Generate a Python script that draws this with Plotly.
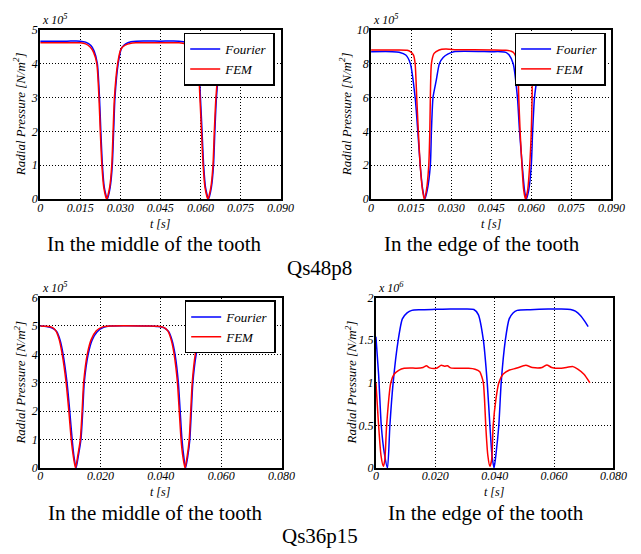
import plotly.graph_objects as go

# ---------------- DATA ----------------
# Qs48p8, middle of the tooth (x 10^5 N/m^2)
tl_four_t = [0, 0.010, 0.015, 0.017, 0.019, 0.0202, 0.0214, 0.0222, 0.0227, 0.0233, 0.0240, 0.0251,
             0.0262, 0.0270, 0.0275, 0.0280, 0.0292, 0.0305, 0.032, 0.034, 0.036, 0.045, 0.052, 0.0545,
             0.0565, 0.0580, 0.0593, 0.0600, 0.0606, 0.0612, 0.0619, 0.0630, 0.0641, 0.0649, 0.0654,
             0.0660, 0.0672, 0.0682, 0.0695, 0.0705]
tl_four_v = [4.66, 4.66, 4.66, 4.63, 4.53, 4.37, 4.00, 3.00, 2.00, 1.00, 0.35, 0.00,
             0.35, 1.00, 2.00, 3.00, 4.00, 4.46, 4.58, 4.64, 4.66, 4.66, 4.66, 4.63,
             4.53, 4.37, 4.00, 3.00, 2.00, 1.00, 0.35, 0.00, 0.35, 1.00, 2.00,
             3.00, 4.00, 4.40, 4.58, 4.63]
tl_fem_t = [0, 0.010, 0.015, 0.017, 0.0188, 0.0200, 0.0212, 0.0220, 0.0225, 0.0231, 0.0238, 0.0249,
            0.0260, 0.0268, 0.0273, 0.0278, 0.0290, 0.0302, 0.0318, 0.034, 0.036, 0.045, 0.052, 0.0543,
            0.0563, 0.0578, 0.0591, 0.0598, 0.0604, 0.0610, 0.0617, 0.0628, 0.0639, 0.0647, 0.0652,
            0.0658, 0.0670, 0.0680, 0.0693, 0.0705]
tl_fem_v = [4.61, 4.61, 4.61, 4.58, 4.48, 4.33, 4.00, 3.00, 2.00, 1.00, 0.35, 0.00,
            0.35, 1.00, 2.00, 3.00, 4.00, 4.42, 4.54, 4.60, 4.61, 4.61, 4.61, 4.58,
            4.48, 4.33, 4.00, 3.00, 2.00, 1.00, 0.35, 0.00, 0.35, 1.00, 2.00,
            3.00, 4.00, 4.38, 4.55, 4.60]

# Qs48p8, edge of the tooth (x 10^5 N/m^2)
tr_four_t = [0, 0.008, 0.0105, 0.013, 0.0147, 0.0165, 0.0175, 0.0184, 0.0193, 0.0201, 0.0210,
             0.0222, 0.0226, 0.0232, 0.0244, 0.0256, 0.0270, 0.0287, 0.031, 0.045, 0.0485, 0.0505,
             0.0517, 0.0532, 0.0548, 0.0556, 0.0566, 0.0574, 0.0581, 0.0590, 0.0600, 0.0605, 0.0612,
             0.0621, 0.0639, 0.0655, 0.0675, 0.0705]
tr_four_v = [8.70, 8.70, 8.66, 8.50, 8.00, 6.00, 4.00, 2.00, 0.60, 0.00, 0.50,
             2.00, 4.00, 6.00, 7.00, 8.00, 8.35, 8.55, 8.70, 8.70, 8.70, 8.66,
             8.50, 8.00, 6.00, 4.00, 2.00, 0.60, 0.00, 0.50, 2.00, 4.00, 6.00,
             7.00, 8.00, 8.35, 8.55, 8.70]
tr_fem_t = [0, 0.010, 0.0135, 0.0147, 0.0159, 0.0165, 0.0171, 0.0177, 0.0184, 0.0192, 0.0199,
            0.0207, 0.0216, 0.0220, 0.0222, 0.0226, 0.0236, 0.0255, 0.028, 0.032, 0.045, 0.0505,
            0.0525, 0.0536, 0.0548, 0.0553, 0.0558, 0.0565, 0.0571, 0.0578, 0.0586, 0.0594, 0.0600,
            0.0603, 0.0605, 0.0615, 0.0627, 0.065, 0.0705]
tr_fem_v = [8.80, 8.80, 8.78, 8.70, 8.50, 8.00, 6.00, 4.00, 2.00, 0.60, 0.00,
            0.50, 2.00, 4.00, 6.00, 8.00, 8.60, 8.80, 8.85, 8.82, 8.80, 8.78,
            8.72, 8.60, 8.00, 6.00, 4.00, 2.00, 0.60, 0.00, 0.50, 2.00, 4.00,
            6.00, 8.00, 8.70, 8.80, 8.82, 8.80]

# Qs36p15, middle of the tooth (x 10^5 N/m^2)
bl_four_t = [0, 0.002, 0.004, 0.0055, 0.0066, 0.0076, 0.0089, 0.0098, 0.0106, 0.0112, 0.0119,
             0.0126, 0.0135, 0.0141, 0.0146, 0.0159, 0.0172, 0.0189, 0.0210, 0.0232, 0.036, 0.039,
             0.0412, 0.0426, 0.0437, 0.0447, 0.0458, 0.0464, 0.0470, 0.0476, 0.0482, 0.0489,
             0.0496, 0.0501, 0.0506, 0.0517, 0.0527, 0.0539, 0.0556]
bl_four_v = [5.00, 4.98, 4.93, 4.80, 4.50, 4.00, 3.00, 2.00, 1.00, 0.40, 0.00,
             0.40, 1.00, 2.00, 3.00, 4.00, 4.50, 4.80, 4.95, 5.00, 5.00, 4.98,
             4.93, 4.80, 4.50, 4.00, 3.00, 2.00, 1.00, 0.40, 0.00, 0.40,
             1.00, 2.00, 3.00, 4.00, 4.50, 4.80, 4.97]
bl_fem_t = [0, 0.002, 0.004, 0.0052, 0.0063, 0.0073, 0.0086, 0.0095, 0.0103, 0.0110, 0.0117,
            0.0124, 0.0133, 0.0139, 0.0144, 0.0156, 0.0169, 0.0186, 0.0207, 0.0230, 0.036, 0.039,
            0.0409, 0.0423, 0.0434, 0.0444, 0.0455, 0.0461, 0.0467, 0.0473, 0.0480, 0.0487,
            0.0494, 0.0499, 0.0504, 0.0514, 0.0524, 0.0536, 0.0556]
bl_fem_v = [5.00, 4.99, 4.95, 4.83, 4.52, 4.00, 3.00, 2.00, 1.00, 0.40, 0.00,
            0.40, 1.00, 2.00, 3.00, 4.00, 4.52, 4.83, 4.97, 5.00, 5.00, 4.99,
            4.95, 4.83, 4.52, 4.00, 3.00, 2.00, 1.00, 0.40, 0.00, 0.40,
            1.00, 2.00, 3.00, 4.00, 4.52, 4.83, 4.98]

# Qs36p15, edge of the tooth (x 10^6 N/m^2)
br_four_t = [0, 0.0009, 0.0018, 0.0028, 0.0039, 0.0047, 0.0058, 0.0075, 0.0089, 0.0105, 0.0121,
             0.015, 0.020, 0.025, 0.030, 0.0330, 0.0345, 0.0362, 0.0375, 0.0384, 0.0391, 0.0398,
             0.0405, 0.0414, 0.0422, 0.0436, 0.0449, 0.0462, 0.0476, 0.052, 0.058, 0.0625, 0.0656,
             0.0672, 0.0689, 0.0702, 0.0715]
br_four_v = [1.54, 1.10, 0.50, 0.18, 0.00, 0.50, 1.00, 1.50, 1.75, 1.82, 1.85,
             1.857, 1.862, 1.866, 1.866, 1.860, 1.80, 1.50, 1.00, 0.50, 0.15, 0.00,
             0.18, 0.50, 1.00, 1.50, 1.75, 1.82, 1.85, 1.858, 1.865, 1.866, 1.860,
             1.840, 1.790, 1.730, 1.660]
br_fem_t = [0, 0.0009, 0.0017, 0.0025, 0.0030, 0.0036, 0.0050, 0.0061, 0.0078, 0.0095, 0.0115,
            0.0137, 0.0159, 0.0170, 0.0181, 0.0203, 0.0220, 0.0231, 0.0241, 0.0252, 0.0279, 0.0312,
            0.0334, 0.0350, 0.0356, 0.0362, 0.0366, 0.0370, 0.0377, 0.0384, 0.0390, 0.0395, 0.0404,
            0.0414, 0.0428, 0.0450, 0.0472, 0.0505, 0.0527, 0.0560, 0.0576, 0.0592, 0.0625, 0.0664,
            0.0680, 0.0701, 0.0721]
br_fem_v = [1.00, 0.50, 0.15, 0.02, 0.10, 0.50, 1.00, 1.10, 1.15, 1.17, 1.175,
            1.17, 1.18, 1.20, 1.175, 1.17, 1.205, 1.195, 1.20, 1.175, 1.17, 1.17,
            1.16, 1.13, 1.08, 1.00, 0.80, 0.50, 0.15, 0.02, 0.10, 0.50, 0.80,
            1.00, 1.10, 1.15, 1.17, 1.205, 1.18, 1.18, 1.21, 1.18, 1.17, 1.19,
            1.16, 1.10, 1.00]

top_xticks = [0, 0.015, 0.030, 0.045, 0.060, 0.075, 0.090]
top_xticktext = ["0", "0.015", "0.030", "0.045", "0.060", "0.075", "0.090"]
bot_xticks = [0, 0.020, 0.040, 0.060, 0.080]
bot_xticktext = ["0", "0.020", "0.040", "0.060", "0.080"]
tl_yticks = [0, 1, 2, 3, 4, 5]
tr_yticks = [0, 2, 4, 6, 8, 10]
bl_yticks = [0, 1, 2, 3, 4, 5, 6]
br_yticks = [0, 0.5, 1, 1.5, 2]
br_yticktext = ["0", "0.5", "1", "1.5", "2"]

captions = ["In the middle of the tooth", "In the edge of the tooth",
            "In the middle of the tooth", "In the edge of the tooth"]
group_titles = ["Qs48p8", "Qs36p15"]
exponents = ["5", "5", "5", "6"]

# ---------------- LAYOUT ----------------
# The page body keeps its default 8px margin, so the figure is drawn 8px in
# from the window's top-left corner; positions below are window pixels.
OFF = 8
W, H = 641 - OFF, 554 - OFF
FONT = "'Liberation Serif', 'Times New Roman', Times, serif"


def px(x):
    return (x - OFF) / W


def py(y):
    return 1 - (y - OFF) / H


# panel boxes in window pixels: left, right, top, bottom
boxes = [(38, 285, 23, 197), (378, 625, 23, 197), (38, 286, 298, 473), (383, 627, 298, 473)]

fig = go.Figure()
BLUE, RED = "#0000ff", "#ff0000"
panels = [
    (tl_four_t, tl_four_v, tl_fem_t, tl_fem_v),
    (tr_four_t, tr_four_v, tr_fem_t, tr_fem_v),
    (bl_four_t, bl_four_v, bl_fem_t, bl_fem_v),
    (br_four_t, br_four_v, br_fem_t, br_fem_v),
]
for i, (ft, fv, et, ev) in enumerate(panels):
    n = "" if i == 0 else str(i + 1)
    leg = "legend" if i == 0 else "legend" + str(i + 1)
    show = i < 3
    fig.add_trace(go.Scatter(x=ft, y=fv, mode="lines", name="Fourier", xaxis="x" + n, yaxis="y" + n,
                             line=dict(color=BLUE, width=1.5, shape="spline", smoothing=0.6),
                             legend=leg, showlegend=show))
    fig.add_trace(go.Scatter(x=et, y=ev, mode="lines", name="FEM", xaxis="x" + n, yaxis="y" + n,
                             line=dict(color=RED, width=1.5, shape="spline", smoothing=0.6),
                             legend=leg, showlegend=show))

tick_font = dict(family=FONT, size=12, color="black", style="italic")
axis_common = dict(showline=True, linecolor="black", linewidth=2, mirror=True,
                   showgrid=True, gridcolor="black", gridwidth=1, griddash="1px,2px",
                   zeroline=False, ticks="", tickfont=tick_font, fixedrange=True)

layout = dict(width=W, height=H, margin=dict(l=0, r=0, t=0, b=0),
              paper_bgcolor="white", plot_bgcolor="white", showlegend=True,
              font=dict(family=FONT, color="black"))

yranges = [[0, 5], [0, 10], [0, 6], [0, 2]]
ytickv = [tl_yticks, tr_yticks, bl_yticks, br_yticks]
ytickt = [[str(v) for v in tl_yticks], [str(v) for v in tr_yticks],
          [str(v) for v in bl_yticks], br_yticktext]
annotations = []
for i, (l, r, t, b) in enumerate(boxes):
    n = "" if i == 0 else str(i + 1)
    top = i < 2
    layout["xaxis" + n] = dict(axis_common, domain=[px(l), px(r)], anchor="y" + n,
                               range=[0, 0.09] if top else [0, 0.08],
                               tickvals=top_xticks if top else bot_xticks,
                               ticktext=top_xticktext if top else bot_xticktext,
                               ticklabelstandoff=-4)
    layout["yaxis" + n] = dict(axis_common, domain=[py(b), py(t)], anchor="x" + n,
                               range=yranges[i], tickvals=ytickv[i], ticktext=ytickt[i],
                               ticklabelstandoff=-2)
    # legend
    if i < 3:
        leg = "legend" if i == 0 else "legend" + str(i + 1)
        layout[leg] = dict(x=px(r - 6), xanchor="right", y=py(t + 3), yanchor="top",
                           xref="paper", yref="paper",
                           bgcolor="white", bordercolor="black", borderwidth=1.5,
                           font=dict(family=FONT, size=13, color="black", style="italic"),
                           tracegroupgap=0, itemwidth=30)
    cx = (l + r) / 2
    common = dict(xref="paper", yref="paper", showarrow=False)
    # exponent
    annotations.append(dict(common, text="x 10<sup>" + exponents[i] + "</sup>", x=px(l), y=py(t - 1),
                            xanchor="left", yanchor="bottom",
                            font=dict(family=FONT, size=12, color="black", style="italic")))
    # y title
    annotations.append(dict(common, text="Radial Pressure [N/m<sup>2</sup>]",
                            x=px(l - 21 if i % 2 == 0 else l - 26),
                            y=py((t + b) / 2), xanchor="center", yanchor="middle", textangle=-90,
                            font=dict(family=FONT, size=13, color="black", style="italic")))
    # x title
    annotations.append(dict(common, text="t [s]", x=px(cx), y=py(b + 25), xanchor="center", yanchor="middle",
                            font=dict(family=FONT, size=12, color="black", style="italic")))
    # caption
    annotations.append(dict(common, text=captions[i], x=px(cx - 6 if i % 2 == 0 else cx - 9), y=py(b + 46),
                            xanchor="center", yanchor="middle",
                            font=dict(family=FONT, size=21, color="black")))

annotations.append(dict(text=group_titles[0], x=px(325), y=py(268), xanchor="center", yanchor="middle",
                        xref="paper", yref="paper",
                        showarrow=False, font=dict(family=FONT, size=21, color="black")))
annotations.append(dict(text=group_titles[1], x=px(326), y=py(543), xanchor="center", yanchor="middle",
                        xref="paper", yref="paper",
                        showarrow=False, font=dict(family=FONT, size=21, color="black")))
layout["annotations"] = annotations

fig.update_layout(**layout)
fig.write_html("out.html")
